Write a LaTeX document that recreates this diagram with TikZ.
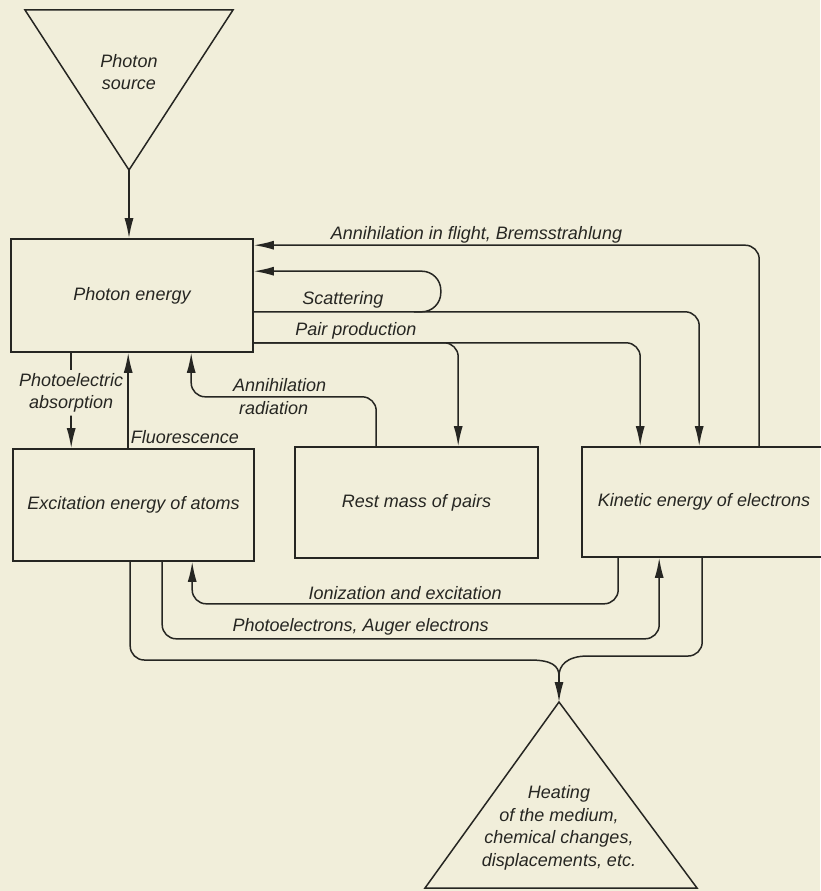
\documentclass[tikz,border=0pt]{standalone}
\usepackage{fontspec}
\setsansfont{Liberation Sans}
\usetikzlibrary{arrows.meta}
\definecolor{paper}{RGB}{241,238,218}
\definecolor{ink}{RGB}{38,38,34}

\begin{document}
\begin{tikzpicture}[x=1pt, y=-1pt, color=ink, line width=1.5pt,
  every node/.style={font=\sffamily\itshape\fontsize{18}{22.5}\selectfont, inner sep=1pt},
  box/.style={draw, line width=1.6pt},
  flow/.style={rounded corners=14pt, -{Latex[length=20pt,width=9pt]}}]
\path[use as bounding box, fill=paper] (0,0) rectangle (820,891);

% source and sink
\coordinate (src) at (129,170);
\draw (25,10) -- (233,10) -- (src) -- cycle;
\node[align=center] (srctext) at (129,72) {Photon\\source};
\coordinate (sink) at (559,702);
\draw (sink) -- (697,888) -- (425,888) -- cycle;
\node[align=center] (sinktext) at (559,828) {Heating\\of the medium,\\chemical changes,\\displacements, etc.};

% energy boxes
\node[box, minimum width=242pt, minimum height=113pt] (photon) at (132,295.5) {Photon energy};
\node[box, minimum width=241pt, minimum height=112pt] (excit) at (133.5,505) {Excitation energy of atoms};
\node[box, minimum width=243pt, minimum height=111pt] (rest) at (416.5,502.5) {Rest mass of pairs};
\node[box, minimum width=244pt, minimum height=110pt] (kin) at (704,502) {Kinetic energy of electrons};

\draw[flow] (src) -- (src |- photon.north);

% out of photon energy
\draw[flow] ([xshift=178pt]kin.north west) |- node[pos=0.75, above, xshift=-30pt] {Annihilation in flight, Bremsstrahlung} ([yshift=-7pt]photon.north east);
\draw[flow] ([yshift=41pt]photon.south east) -| node[pos=0.1, above, yshift=2pt] {Scattering} ([xshift=118pt]kin.north west);
\draw[flow, rounded corners=19pt] ([xshift=160pt, yshift=41pt]photon.south east) -- ++(27,0) |- ([yshift=-33pt]photon.north east);
\draw[flow] ([yshift=10pt]photon.south east) -| node[pos=0.25, above, yshift=2pt] {Pair production} ([xshift=164pt]rest.north west);
\draw[flow] ([yshift=10pt]photon.south east) -| ([xshift=59pt]kin.north west);
\draw[flow] ([xshift=61pt]photon.south west) -- node[pos=0.42, fill=paper, align=center, inner sep=3pt] {Photoelectric\\absorption} ([xshift=59pt]excit.north west);
\draw[flow] ([xshift=116pt]excit.north west) -- node[pos=0.02, above right, inner sep=2pt] {Fluorescence} ([xshift=118pt]photon.south west);
\draw[flow] ([xshift=82pt]rest.north west) |- node[pos=0.75, above, yshift=3pt, xshift=-4pt] {Annihilation} node[pos=0.75, below, yshift=-3pt, xshift=-10pt] {radiation} ([xshift=181pt, yshift=-44pt]photon.south west) -- ([xshift=181pt]photon.south west);

% between the lower boxes
\draw[flow] ([xshift=37pt]kin.south west) |- node[pos=0.75, above, yshift=2pt] {Ionization and excitation} ([xshift=180pt, yshift=-42pt]excit.south west) -- ([xshift=180pt]excit.south west);
\draw[flow] ([xshift=150pt]excit.south west) |- node[pos=0.75, above, yshift=2pt, xshift=-50pt] {Photoelectrons, Auger electrons} ([xshift=78pt, yshift=-81pt]kin.south west) -- ([xshift=78pt]kin.south west);

% into the medium
\coordinate (join) at (559,676);
\coordinate (joinL) at (530,660);
\coordinate (joinR) at (588,656);
\draw[rounded corners=14pt] ([xshift=118pt]excit.south west) |- (joinL);
\draw (joinL) .. controls +(22,0) and +(0,-10) .. (join);
\draw[rounded corners=14pt] ([xshift=121pt]kin.south west) |- (joinR);
\draw (joinR) .. controls +(-22,0) and +(0,-10) .. (join);
\draw[flow] (join) -- (sink);
\end{tikzpicture}
\end{document}
